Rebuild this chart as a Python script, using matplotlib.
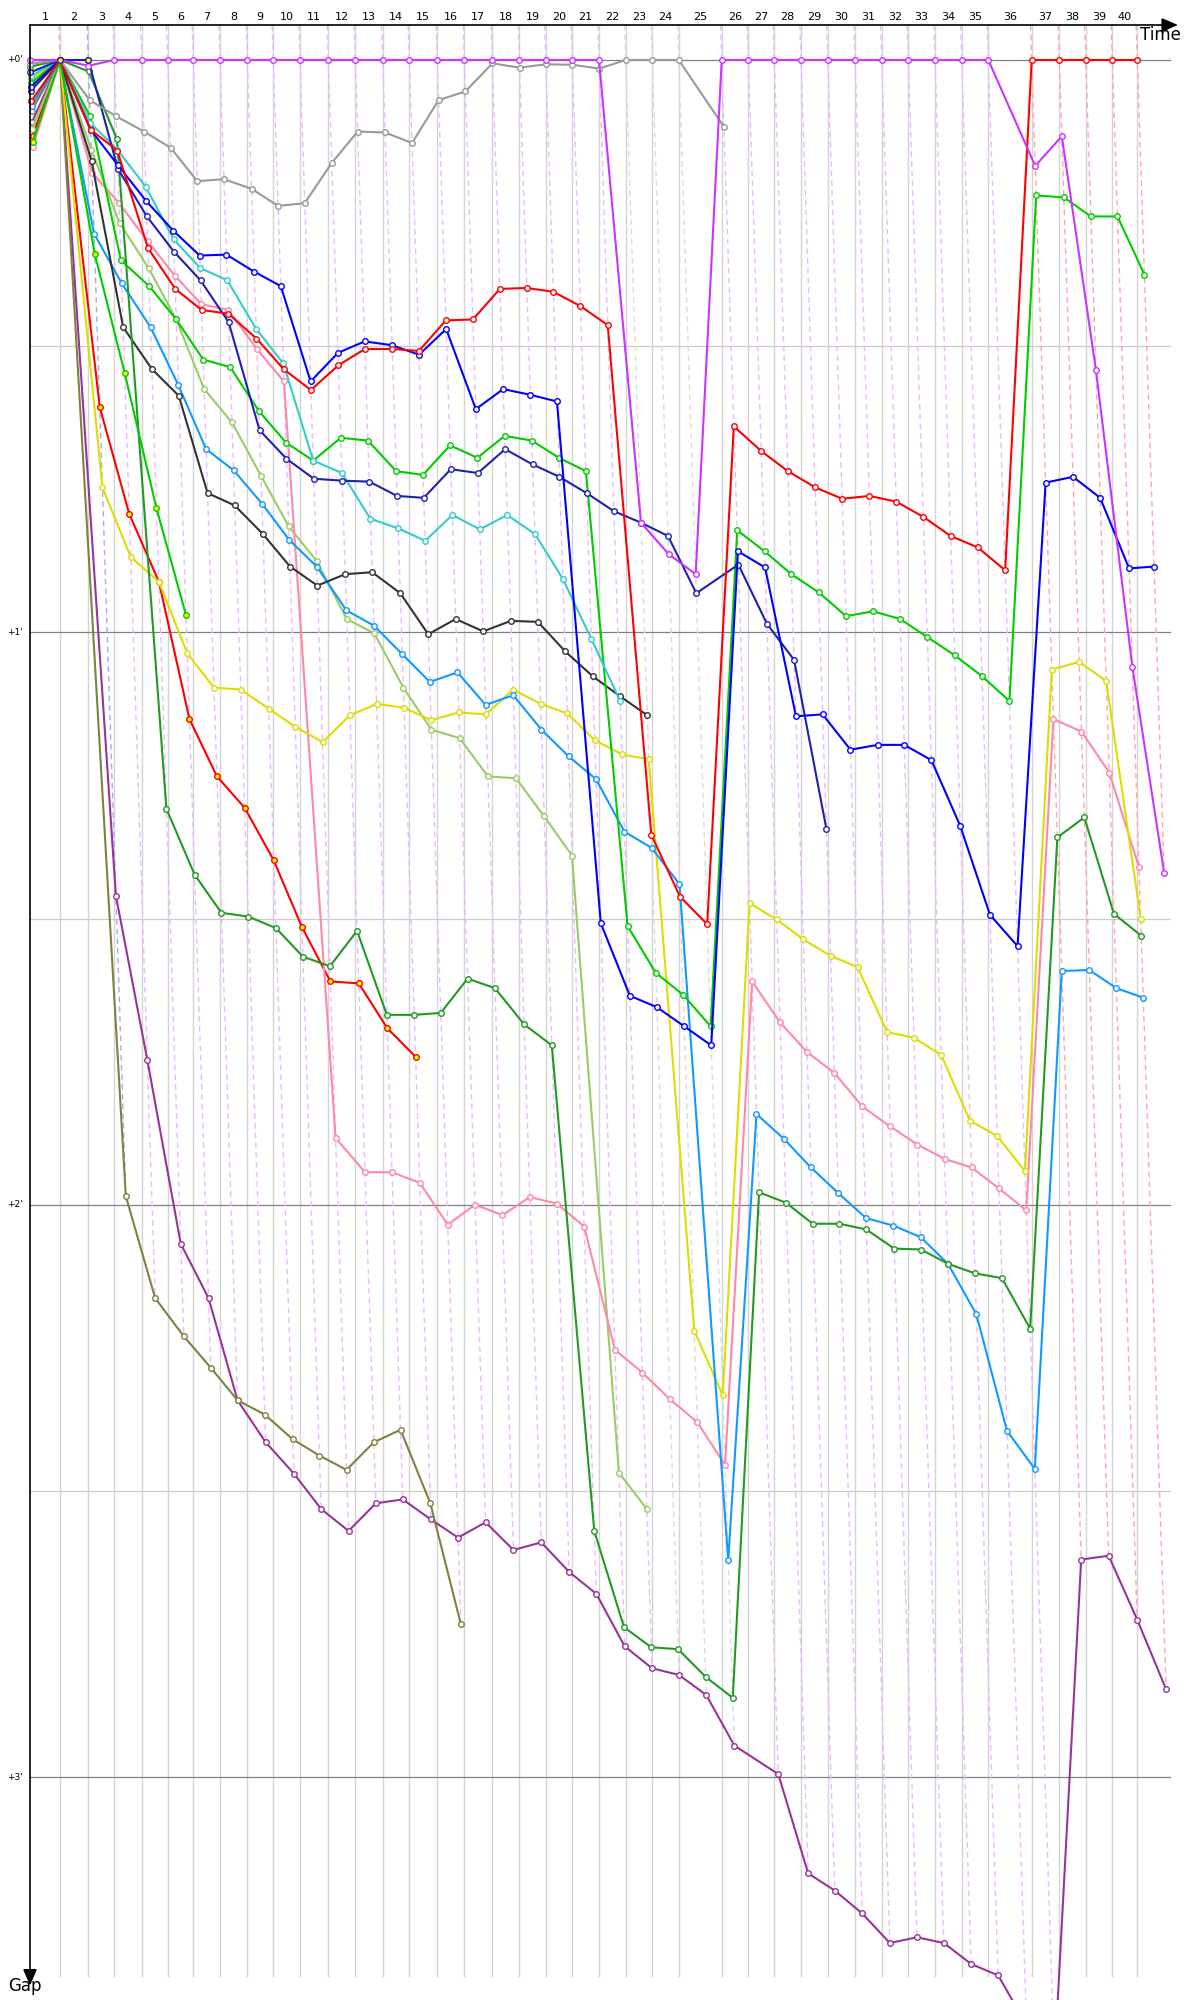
import numpy as np
import matplotlib.pyplot as plt
from matplotlib.colors import to_rgb

# leader lap times in seconds (laps 1..40)
leader_lap_times = [95.3, 89.9, 82.6, 87.0, 82.6, 81.3, 84.9, 86.7, 82.6, 84.8,
                    89.9, 85.8, 87.0, 84.5, 88.9, 85.8, 89.0, 85.7, 83.9, 84.5,
                    84.8, 84.8, 84.5, 83.9, 136.6, 84.5, 82.6, 84.8, 84.8, 86.7,
                    84.8, 84.5, 84.8, 84.9, 84.5, 137.8, 87.7, 83.9, 84.5, 79.4]
lap_labels = [str(i) for i in range(1, 41)]
# colour of the car leading each lap (laps 1..40)
lap_leader = (["#ff0000", "#0000ff"] + ["#cc33ff"] * 19 + ["#999999"] * 3
              + ["#cc33ff"] * 11 + ["#ff0000"] * 5)

# gap to leader in seconds, lap 0 (start) onwards
purple = ([0.0, 0, 0.6] + [0] * 19 + [48.5, 51.8, 53.9] + [0] * 11
          + [11.1, 8.0, 32.5, 63.6, 85.2])
gray = [0.4, 0, 4.2, 5.9, 7.5, 9.2, 12.7, 12.5, 13.5, 15.3, 15.0, 10.8, 7.5, 7.6,
        8.7, 4.2, 3.3, 0.35, 0.8, 0.45, 0.5, 0.9, 0, 0, 0, 7.0]
red = [4.3, 0, 7.3, 9.5, 19.7, 24.0, 26.2, 26.6, 29.2, 32.4, 34.6, 32.0, 30.3, 30.3,
       30.5, 27.3, 27.2, 24.0, 23.9, 24.3, 25.8, 27.8, 81.2, 87.7, 90.6, 38.4, 41.0,
       43.1, 44.8, 46.0, 45.7, 46.3, 47.9, 49.9, 51.1, 53.5, 0, 0, 0, 0, 0]
blue = [2.8, 0, 7.3, 11.0, 14.8, 17.9, 20.5, 20.4, 22.2, 23.7, 33.7, 30.7, 29.5, 29.9,
        30.9, 28.2, 36.6, 34.5, 35.1, 35.8, 90.5, 98.1, 99.3, 101.3, 103.3, 51.5, 53.2,
        68.8, 68.6, 72.3, 71.8, 71.8, 73.4, 80.3, 89.6, 92.9, 44.3, 43.7, 45.9, 53.3, 53.1]
navy = [1.3, 0, 0, 11.4, 16.4, 20.1, 23.1, 27.5, 38.8, 41.8, 43.9, 44.1, 44.2, 45.7,
        45.9, 42.9, 43.3, 40.8, 42.4, 43.7, 45.4, 47.3, 48.5, 49.9, 55.9, 52.9, 59.1,
        62.9, 80.6]
cyan = [1.7, 0, 6.6, 9.4, 13.3, 18.8, 21.8, 23.1, 28.2, 31.8, 42.0, 43.3, 48.1, 49.1,
        50.4, 47.7, 49.2, 47.7, 49.7, 54.4, 60.7, 67.2]
green_short = [8.6, 0, 20.3, 32.8, 47.0, 58.2]
green = [2.4, 0, 5.9, 21.0, 23.7, 27.2, 31.4, 32.2, 36.8, 40.1, 42.0, 39.6, 39.9, 43.1,
         43.5, 40.4, 41.7, 39.4, 39.9, 41.7, 43.1, 90.8, 95.7, 98.0, 101.3, 49.3, 51.5,
         53.9, 55.8, 58.3, 57.8, 58.6, 60.5, 62.4, 64.6, 67.2, 14.2, 14.4, 16.4, 16.4, 22.5]
forest = [0.7, 0, 1.2, 8.3, 78.5, 85.4, 89.4, 89.8, 91.0, 94.0, 95.0, 91.3, 100.1, 100.1,
          99.9, 96.3, 97.3, 101.1, 103.3, 154.2, 164.3, 166.4, 166.6, 169.5, 171.7, 118.7,
          119.8, 122.0, 122.0, 122.6, 124.6, 124.7, 126.2, 127.2, 127.7, 133.0, 81.5,
          79.4, 89.5, 91.8]
black = [3.2, 0, 10.6, 28.0, 32.4, 35.2, 45.4, 46.7, 49.7, 53.1, 55.1, 53.9, 53.7, 55.9,
         60.2, 58.6, 59.9, 58.8, 58.9, 62.0, 64.6, 66.7, 68.7]
lightblue = [4.8, 0, 18.2, 23.4, 28.0, 34.1, 40.8, 43.0, 46.5, 50.3, 53.1, 57.7, 59.3,
             62.3, 65.2, 64.2, 67.6, 66.6, 70.2, 73.0, 75.4, 80.9, 82.6, 86.4, 157.3,
             110.5, 113.1, 116.1, 118.8, 121.4, 122.2, 123.4, 126.2, 131.5, 143.7, 147.7,
             95.5, 95.4, 97.3, 98.3]
yellow = [2.0, 0, 44.8, 52.1, 54.7, 62.2, 65.8, 66.0, 68.0, 69.9, 71.5, 68.7, 67.5, 67.9,
          69.2, 68.4, 68.6, 66.0, 67.5, 68.5, 71.3, 72.8, 73.3, 133.2, 140.0, 88.4, 90.1,
          92.2, 93.9, 95.1, 101.9, 102.5, 104.3, 111.2, 112.8, 116.5, 63.9, 63.1, 65.1, 90.0]
pink = [9.1, 0, 11.8, 15.0, 19.0, 22.6, 25.6, 26.2, 30.3, 33.7, 113.0, 116.6, 116.6, 117.7,
        122.1, 120.0, 121.1, 119.2, 119.9, 122.3, 135.2, 137.6, 140.4, 142.8, 147.3, 96.6,
        100.9, 104.0, 106.2, 109.7, 111.8, 113.7, 115.2, 116.1, 118.3, 120.6, 69.1, 70.4,
        74.7, 84.6]
yellowgreen = [7.2, 0, 9.4, 17.1, 21.8, 27.2, 34.5, 38.0, 43.6, 48.9, 52.5, 58.6, 60.1,
               65.8, 70.2, 71.1, 75.1, 75.3, 79.3, 83.4, 148.1, 151.9]
red_short = [8.0, 0, 36.4, 47.6, 54.7, 69.1, 75.1, 78.4, 83.9, 90.9, 96.6, 96.8, 101.5, 104.5]
olive = [5.3, 0, 119.1, 129.8, 133.8, 137.1, 140.5, 142.0, 144.6, 146.3, 147.8, 144.9,
         143.6, 151.3, 164.0]
darkpurple = [6.5, 0, 87.6, 104.8, 124.1, 129.8, 140.5, 144.9, 148.2, 151.9, 154.2, 151.3,
              150.9, 153.0, 154.9, 153.3, 156.2, 155.4, 158.5, 160.8, 166.3, 168.6, 169.3,
              171.4, 176.7, 179.7, 190.1, 191.9, 194.3, 197.4, 196.8, 197.4, 199.6, 200.8,
              206.0, 210.0, 157.2, 156.8, 163.5, 170.8]

# (gaps, line colour, marker face)
series = [
    (darkpurple, "#993399", "white"),
    (olive, "#808040", "white"),
    (red_short, "#ff0000", "#ffff00"),
    (yellowgreen, "#99cc66", "white"),
    (pink, "#ff88aa", "white"),
    (yellow, "#dddd00", "white"),
    (lightblue, "#1199ff", "white"),
    (black, "#333333", "white"),
    (forest, "#229922", "white"),
    (green, "#00cc00", "white"),
    (green_short, "#00cc00", "#ffff00"),
    (cyan, "#33cccc", "white"),
    (navy, "#2020b0", "white"),
    (blue, "#0000ff", "white"),
    (red, "#ff0000", "white"),
    (gray, "#999999", "white"),
    (purple, "#cc33ff", "white"),
]

T = np.concatenate([[0.0], np.cumsum(leader_lap_times)])

kx = 0.3148   # px per second along time
ky = 9.539    # px per second along gap
fig = plt.figure(figsize=(12, 20), dpi=100)
ax = fig.add_axes([0, 0, 1, 1])
ax.set_axis_off()
ax.set_xlim(-30 / kx, 1170 / kx)
ax.set_ylim(1940 / ky, -60 / ky)

y_top = -35 / ky
y_bot = 1916 / ky
x_right = 1140 / kx


def lighten(c, a=0.35):
    r = np.array(to_rgb(c))
    return tuple(a * r + (1 - a))


# horizontal grid
for m in [30, 90, 150]:
    ax.plot([0, x_right], [m, m], color="#cccccc", lw=0.9, zorder=0.5)
for m in [0, 60, 120, 180]:
    ax.plot([0, x_right], [m, m], color="#808080", lw=0.9, zorder=0.6)
    ax.text(-7 / kx, m, "+%d'" % (m // 60), ha="right", va="center", fontsize=6.5)

# lap lines: leader crossing (solid) and slanted dashed for same lap
for k in range(1, 41):
    ax.plot([T[k], T[k]], [y_top, y_bot], color="#d4d4d4", lw=1.0, zorder=0.4)
    gmax = max(s[0][k] for s in series if len(s[0]) > k)
    ax.plot([T[k] + y_top, T[k] + gmax], [y_top, gmax], color=lighten(lap_leader[k - 1]),
            lw=1.0, ls=(0, (4, 3)), zorder=1)
    ax.text((T[k - 1] + T[k]) / 2, -43 / ky, lap_labels[k - 1], ha="center", va="center",
            fontsize=8)

# cars
for gaps, col, face in series:
    laps = np.arange(len(gaps))
    g = np.array(gaps, dtype=float)
    ax.plot(T[laps] + g, g, color=col, lw=1.5, marker="o", ms=4, mfc=face, mec=col,
            mew=1.0, zorder=3, clip_on=True)

# leader marker highlight at laps 1-2
ax.plot(T[1:3] + np.array(navy[1:3]), navy[1:3], ls="none", marker="o", ms=4,
        mfc="#ffff00", mec="#2020b0", mew=1.0, zorder=4)

# axes with arrows
ax.annotate("", xy=(1148 / kx, y_top), xytext=(0, y_top),
            arrowprops=dict(arrowstyle="-|>,head_length=0.7,head_width=0.3",
                            color="black", lw=1.2, mutation_scale=14,
                            shrinkA=0, shrinkB=0), annotation_clip=False)
ax.annotate("", xy=(0, y_bot + 1), xytext=(0, y_top),
            arrowprops=dict(arrowstyle="-|>,head_length=0.7,head_width=0.3",
                            color="black", lw=1.2, mutation_scale=14,
                            shrinkA=0, shrinkB=0), annotation_clip=False)
ax.text(1130 / kx, -25 / ky, "Time", ha="center", va="center", fontsize=12)
ax.text(-5 / kx, 1926 / ky, "Gap", ha="center", va="center", fontsize=12)

fig.savefig("out.png", dpi=100)
